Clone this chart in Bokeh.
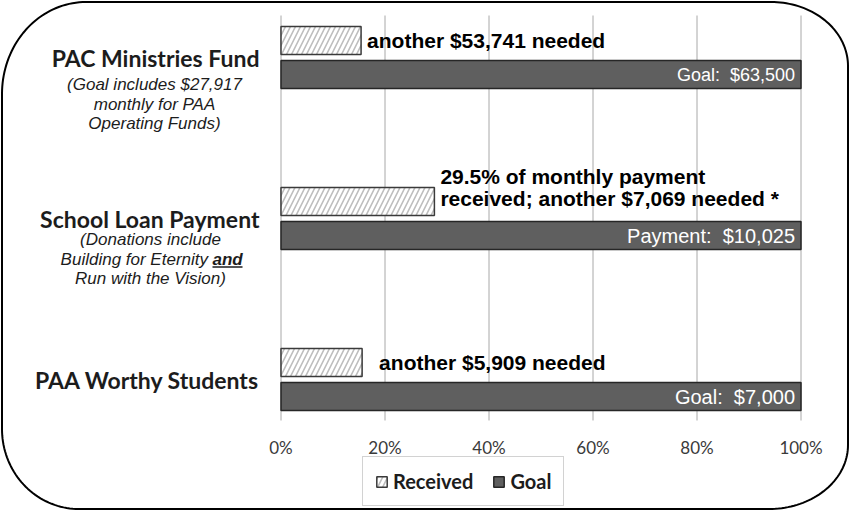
import numpy as np
from bokeh.plotting import figure
from bokeh.models import Range1d, ColumnDataSource, Legend, LegendItem
from bokeh.core.properties import value
from bokeh.embed import file_html
from bokeh.resources import INLINE

# ---------------- data ----------------
categories = ["PAC Ministries Fund", "School Loan Payment", "PAA Worthy Students"]
category_notes = [
    [("(Goal includes $27,917", ""), ("monthly for PAA", ""), ("Operating Funds)", "")],
    [("(Donations include", ""), ("Building for Eternity", "and"), ("Run with the Vision)", "")],
    [],
]
received_pct = [15.4, 29.5, 15.6]
goal_pct = [100, 100, 100]
received_labels = [
    ["another $53,741 needed"],
    ["29.5% of monthly payment", "received; another $7,069 needed *"],
    ["another $5,909 needed"],
]
goal_labels = ["Goal:\u00a0 $63,500", "Payment:\u00a0 $10,025", "Goal:\u00a0 $7,000"]
x_ticks = [0, 20, 40, 60, 80, 100]
x_tick_labels = ["0%", "20%", "40%", "60%", "80%", "100%"]
series_names = ["Received", "Goal"]

# ---------------- layout (pixels inside the figure) ----------------
W, H = 849, 510
X0, PXU = 280.5, 5.2      # px of 0%, px per percent
Y0, PYU = 57.0, 161.0     # px of first category, px per category


def dx(px):
    return (px - X0) / PXU


def dy(py):
    return (py - Y0) / PYU


p = figure(width=W, height=H, x_range=Range1d(dx(0), dx(W)), y_range=Range1d(dy(H), dy(0)),
           x_axis_type=None, y_axis_type=None, toolbar_location=None, tools="",
           output_backend="svg", min_border=0, outline_line_color=None,
           background_fill_color="white", border_fill_color="white")

ypos = np.arange(len(categories), dtype=float)
bar_h = 28 / PYU
recv_y = ypos - 17 / PYU
goal_y = ypos + 17 / PYU

# gridlines
p.segment(x0=x_ticks, x1=x_ticks, y0=dy(15), y1=dy(420), line_color="#a8a8a8", line_width=1)

# bars
r_goal = p.hbar(y=goal_y, left=0, right=goal_pct, height=bar_h,
                fill_color="#5f5f5f", line_color="#262626", line_width=1.5)
r_recv = p.hbar(y=recv_y, left=0, right=received_pct, height=bar_h,
                fill_color="white", hatch_pattern="/", hatch_color="#bdbdbd",
                hatch_scale=10, hatch_weight=1.6, line_color="#3a3a3a", line_width=1.5)

# goal labels (white, inside bars)
gsrc = ColumnDataSource(dict(x=goal_pct, y=goal_y, t=goal_labels, fs=["18px", "20px", "20px"]))
p.text(x="x", y="y", text="t", source=gsrc, x_offset=-6, text_align="right",
       text_baseline="middle", text_color="white", text_font=value("Liberation Sans"),
       text_font_size="fs")

# received labels
rx, ry, rt, rxo = [], [], [], []
recv_x_offsets = [6, 6, 17]
for i, lines in enumerate(received_labels):
    n = len(lines)
    for j, line in enumerate(lines):
        off = 0 if n == 1 else -(n - 1 - j) * 22 - 3
        rx.append(received_pct[i])
        ry.append(recv_y[i] + off / PYU)
        rt.append(line)
        rxo.append(recv_x_offsets[i])
rsrc = ColumnDataSource(dict(x=rx, y=ry, t=rt, xo=rxo))
p.text(x="x", y="y", text="t", source=rsrc, x_offset="xo", text_align="left",
       text_baseline="middle", text_color="black", text_font=value("Liberation Sans"),
       text_font_style="bold", text_font_size="21px")

# category titles
p.text(x=[dx(259)] * 3, y=ypos, text=categories, text_align="right", text_baseline="middle",
       text_font=value("Lato"), text_font_style="bold", text_font_size="23px", text_color="#1c1c1c")

# category notes
note_cx = [154, 150, 150]
note_first = [27, 21, 21]
note_step = 19.5
emph_left_px = 212
for i, lines in enumerate(category_notes):
    for j, (plain, emph) in enumerate(lines):
        yy = ypos[i] + (note_first[i] + j * note_step) / PYU
        if emph:
            p.text(x=[dx(emph_left_px - 4.5)], y=[yy], text=[plain], text_align="right",
                   text_baseline="middle", text_font=value("Liberation Sans"),
                   text_font_style="italic", text_font_size="17px", text_color="#1c1c1c")
            p.text(x=[dx(emph_left_px)], y=[yy], text=[emph], text_align="left",
                   text_baseline="middle", text_font=value("Liberation Sans"),
                   text_font_style="bold italic", text_font_size="17px", text_color="#1c1c1c")
            p.line(x=[dx(emph_left_px), dx(emph_left_px + 30)], y=[yy + 8 / PYU] * 2,
                   line_color="#1c1c1c", line_width=1.3)
        else:
            p.text(x=[dx(note_cx[i])], y=[yy], text=[plain], text_align="center",
                   text_baseline="middle", text_font=value("Liberation Sans"),
                   text_font_style="italic", text_font_size="17px", text_color="#1c1c1c")

# x tick labels
p.text(x=x_ticks, y=[dy(447)] * len(x_ticks), text=x_tick_labels, text_align="center",
       text_baseline="middle", text_font=value("Lato"), text_font_size="17px", text_color="#3a3a3a")

# legend
legend = Legend(items=[LegendItem(label=series_names[0], renderers=[r_recv]),
                       LegendItem(label=series_names[1], renderers=[r_goal])],
                orientation="horizontal", location=(362, 4),
                label_text_font="Lato", label_text_font_style="bold", label_text_font_size="20px",
                label_text_color="#1c1c1c", glyph_width=13, glyph_height=13, label_standoff=5,
                spacing=19, padding=12, margin=0, border_line_color="#a6a6a6",
                border_line_width=1.5, background_fill_color="white", background_fill_alpha=1)
p.add_layout(legend)

# rounded border
L, R, T, B = 1.5, W - 1.5, 1.5, H - 1.5
radii = {"tl": (84, 92), "tr": (77, 64), "br": (79, 64), "bl": (77, 80)}


def arc(cx, cy, rxx, ryy, a0, a1, n=40):
    t = np.radians(np.linspace(a0, a1, n))
    return cx + rxx * np.cos(t), cy - ryy * np.sin(t)


pts_x, pts_y = [], []
for (cx, cy, key, a0, a1) in [
    (R - radii["tr"][0], T + radii["tr"][1], "tr", 90, 0),
    (R - radii["br"][0], B - radii["br"][1], "br", 0, -90),
    (L + radii["bl"][0], B - radii["bl"][1], "bl", -90, -180),
    (L + radii["tl"][0], T + radii["tl"][1], "tl", 180, 90),
]:
    ax, ay = arc(cx, cy, radii[key][0], radii[key][1], a0, a1)
    pts_x.extend(ax)
    pts_y.extend(ay)
pts_x.append(pts_x[0])
pts_y.append(pts_y[0])
p.line(x=[dx(v) for v in pts_x], y=[dy(v) for v in pts_y], line_color="black", line_width=2)

open("out.html", "w").write(file_html(p, INLINE))
